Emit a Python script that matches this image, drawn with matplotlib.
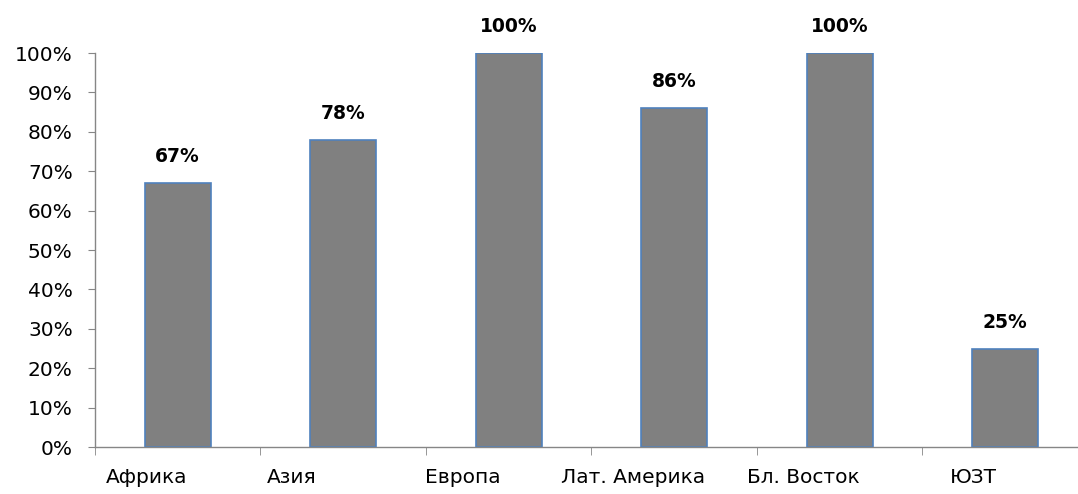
import matplotlib.pyplot as plt
from matplotlib.ticker import FixedLocator, FuncFormatter

# values
regions = ["Африка", "Азия", "Европа", "Лат. Америка", "Бл. Восток", "ЮЗТ"]
shares = [67, 78, 100, 86, 100, 25]
# where the category labels sit (Excel shifted them off-centre)
label_pos = [-0.19, 0.69, 1.72, 2.75, 3.78, 4.81]

plt.rcParams["font.family"] = ["DejaVu Sans"]

fig = plt.figure(figsize=(10.78, 4.94), dpi=100)
ax = fig.add_axes([0.0881, 0.0951, 1.0 - 0.0881, 0.7976])

x = list(range(len(regions)))
ax.bar(x, shares, width=0.4, color="#808080", edgecolor="#4F81BD", linewidth=1.2)

for xi, v in zip(x, shares):
    ax.annotate(f"{v}%", (xi, v), textcoords="offset points", xytext=(0, 19),
                ha="center", va="center", fontsize=13.5, fontweight="bold")

ax.set_xlim(-0.5, 5.44)
ax.set_ylim(0, 100)

ax.set_yticks(range(0, 101, 10))
ax.yaxis.set_major_formatter(FuncFormatter(lambda v, p: f"{v:.0f}%"))
ax.tick_params(axis="y", length=5, color="#868686", labelsize=14.5, pad=11)

ax.set_xticks(label_pos)
ax.set_xticklabels(regions)
ax.tick_params(axis="x", which="major", length=0, labelsize=14.5, pad=15)
ax.xaxis.set_minor_locator(FixedLocator([i - 0.5 for i in range(len(regions) + 1)]))
ax.tick_params(axis="x", which="minor", length=6, color="#868686")

for side in ["top", "right"]:
    ax.spines[side].set_visible(False)
for side in ["left", "bottom"]:
    ax.spines[side].set_color("#868686")
    ax.spines[side].set_linewidth(1.0)

plt.savefig("out.png", dpi=100)
